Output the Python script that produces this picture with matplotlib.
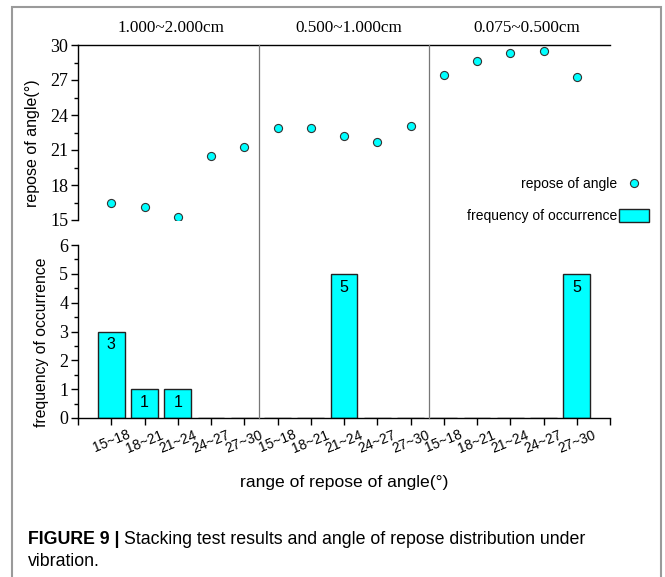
import numpy as np
import matplotlib
matplotlib.use("Agg")
import matplotlib.pyplot as plt
import matplotlib.transforms as mtransforms
from matplotlib.patches import Rectangle
from matplotlib.lines import Line2D

# size classes and angle ranges
groups = ["1.000~2.000cm", "0.500~1.000cm", "0.075~0.500cm"]
ranges = ["15~18", "18~21", "21~24", "24~27", "27~30"]

# repose of angle (deg) per test, each group of five
repose_g1 = [16.5, 16.1, 15.3, 20.5, 21.3]
repose_g2 = [22.9, 22.9, 22.2, 21.7, 23.1]
repose_g3 = [27.4, 28.6, 29.3, 29.5, 27.3]

# frequency of occurrence per range
freq_g1 = [3, 1, 1, 0, 0]
freq_g2 = [0, 0, 5, 0, 0]
freq_g3 = [0, 0, 0, 0, 5]

repose = repose_g1 + repose_g2 + repose_g3
freq = freq_g1 + freq_g2 + freq_g3
labels = ranges * 3
x = np.arange(1, len(labels) + 1)

sep_pos = [5.45, 10.55]
head_pos = [2.81, 8.15, 13.5]

cyan = "#00FFFF"
serif = "Liberation Serif"
sans = "Liberation Sans"

W, H = 665, 577
fig = plt.figure(figsize=(W / 100, H / 100), dpi=100)

def fx(px):
    return px / W

def fy(py):
    return 1 - py / H

ax1 = fig.add_axes([fx(78), fy(220), fx(610) - fx(78), fy(45) - fy(220)])
ax2 = fig.add_axes([fx(78), fy(418), fx(610) - fx(78), fy(245) - fy(418)])

# upper: repose of angle
ax1.scatter(x, repose, s=34, color=cyan, edgecolor="#333333", linewidth=0.8, zorder=3,
            label="repose of angle")
ax1.set_xlim(0, 16)
ax1.set_ylim(15, 30)
ax1.set_yticks(np.arange(15, 31, 3))
ax1.set_yticks(np.arange(16.5, 30, 3), minor=True)
ax1.set_xticks([])
for s in ["right", "bottom"]:
    ax1.spines[s].set_visible(False)
ax1.tick_params(axis="y", which="major", length=5, width=1, direction="out", pad=2)
ax1.tick_params(axis="y", which="minor", length=3, width=1, direction="out")
for t in ax1.get_yticklabels():
    t.set_fontfamily(serif)
    t.set_fontsize(13)
ax1.set_ylabel("repose of angle(°)", fontsize=11.5, family=sans, va="center")

# lower: frequency of occurrence
bars = ax2.bar(x, freq, width=0.8, color=cyan, edgecolor="#222222", linewidth=1.0,
               label="frequency of occurrence")
ax2.bar_label(bars, labels=[str(v) if v else "" for v in freq], padding=-15,
              fontsize=11.5, family=sans)
ax2.set_xlim(0, 16)
ax2.set_ylim(0, 6)
ax2.set_yticks(np.arange(0, 7, 1))
ax2.set_yticks(np.arange(0.5, 6, 1), minor=True)
ax2.set_xticks(np.arange(0, 17))
ax2.set_xticklabels([""] + labels + [""], rotation=22, ha="center", fontsize=10, family=sans)
for s in ["right", "top"]:
    ax2.spines[s].set_visible(False)
ax2.tick_params(axis="both", which="major", length=5, width=1, direction="out", pad=2)
ax2.tick_params(axis="y", which="minor", length=3, width=1, direction="out")
for t in ax2.get_yticklabels():
    t.set_fontfamily(serif)
    t.set_fontsize(13)
ax2.set_ylabel("frequency of occurrence", fontsize=11.3, family=sans, va="center")
ax2.set_xlabel("range of repose of angle(°)", fontsize=12.6, family=sans, labelpad=14)

for ax in (ax1, ax2):
    for s in ax.spines.values():
        s.set_linewidth(1.0)

# y labels at measured pixel positions
ax1.yaxis.set_label_coords(-(78 - 33) / (610 - 78), (220 - 143.5) / 175)
ax2.yaxis.set_label_coords(-(78 - 42) / (610 - 78), (418 - 342.5) / 173)

# group separators spanning both panels
trans = mtransforms.blended_transform_factory(ax2.transData, fig.transFigure)
for p in sep_pos:
    fig.add_artist(Line2D([p, p], [fy(418), fy(45)], transform=trans, color="#777777",
                          linewidth=0.9))

# group headings
trans_h = mtransforms.blended_transform_factory(ax1.transData, fig.transFigure)
for p, g in zip(head_pos, groups):
    fig.text(p, fy(28), g, transform=trans_h, ha="center", va="center",
             fontsize=12.3, family=serif)

# legend
h1, l1 = ax1.get_legend_handles_labels()
h2, l2 = ax2.get_legend_handles_labels()
fig.legend(h1 + h2, l1 + l2, loc="lower right", bbox_to_anchor=(fx(656), fy(230)),
           frameon=False, markerfirst=False, handlelength=2.2,
           handleheight=1.1, handletextpad=0.1, labelspacing=1.3, borderpad=0,
           prop={"family": sans, "size": 10})

# outer frame
fig.add_artist(Rectangle((fx(12), -0.1), fx(661) - fx(12), fy(7) + 0.1, transform=fig.transFigure,
                         fill=False, edgecolor="#9a9a9a", linewidth=1.5))

# caption
cap_size = 12.8
t0 = fig.text(fx(28), fy(539), "FIGURE 9 |", fontsize=cap_size, family=sans, weight="bold",
              ha="left", va="center")
r = fig.canvas.get_renderer()
bb = t0.get_window_extent(renderer=r)
fig.text(bb.x1 / W + fx(4), fy(539),
         "Stacking test results and angle of repose distribution under",
         fontsize=cap_size, family=sans, ha="left", va="center")
fig.text(fx(28), fy(562), "vibration.", fontsize=cap_size, family=sans, ha="left", va="center")

fig.savefig("out.png", dpi=100)
